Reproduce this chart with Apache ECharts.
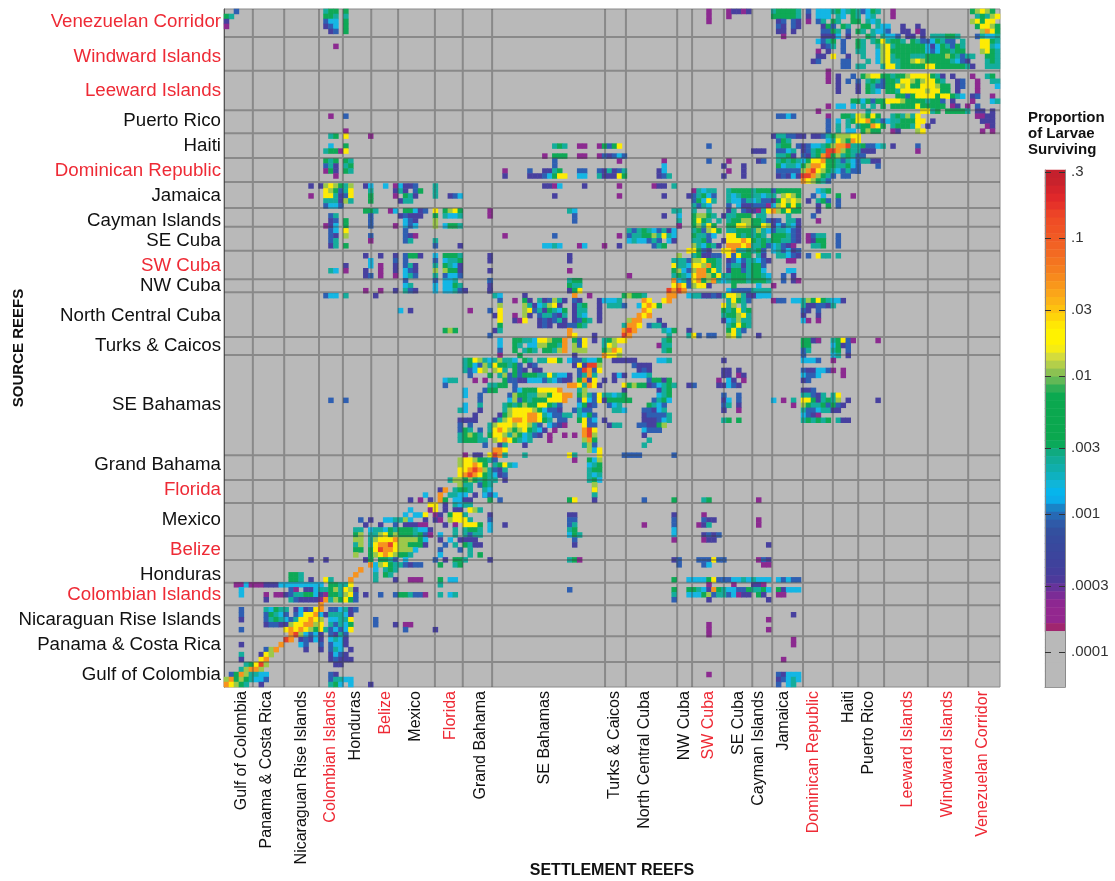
<!DOCTYPE html>
<html>
<head>
<meta charset="utf-8">
<title>Larval connectivity matrix</title>
<script src="https://cdn.jsdelivr.net/npm/echarts@6/dist/echarts.min.js"></script>
<style>
html, body { margin: 0; padding: 0; background: #fff; }
#chart { width: 1115px; height: 881px; }
</style>
</head>
<body>
<div id="chart"></div>
<script>
"use strict";

/*-----labels-----*/
var sourceNames = ['Venezuelan Corridor', 'Windward Islands', 'Leeward Islands', 'Puerto Rico', 'Haiti', 'Dominican Republic', 'Jamaica', 'Cayman Islands', 'SE Cuba', 'SW Cuba', 'NW Cuba', 'North Central Cuba', 'Turks & Caicos', 'SE Bahamas', 'Grand Bahama', 'Florida', 'Mexico', 'Belize', 'Honduras', 'Colombian Islands', 'Nicaraguan Rise Islands', 'Panama & Costa Rica', 'Gulf of Colombia'];
var sourceRows = [2, 9, 16, 22, 27, 32, 37, 42, 46, 51, 55, 61, 67, 79, 91, 96, 102, 108, 113, 117, 122, 127, 133];
var settleNames = sourceNames.slice().reverse();
var settleCols = [3, 8, 15, 21, 26, 32, 38, 45, 51, 64, 78, 84, 92, 97, 103, 107, 112, 118, 125, 129, 137, 145, 152];
var redNames = ['Venezuelan Corridor', 'Windward Islands', 'Leeward Islands', 'Dominican Republic', 'SW Cuba', 'Florida', 'Belize', 'Colombian Islands'];

/* region edges, in matrix cells */
var edgesX = [5.8, 12.1, 19.1, 23.9, 29.6, 35, 42.4, 48, 53.9, 76.6, 80.8, 91.1, 94.1, 100.5, 106.2, 110.2, 116.4, 122.4, 127.5, 132.7, 141.5, 149.6];
var edgesY = [5.6, 12.4, 20.3, 24.9, 29.9, 34.7, 39.9, 43.7, 48.5, 54.2, 56.8, 65.8, 69.4, 89.5, 94.5, 99.1, 105.7, 110.5, 115.1, 119.6, 125.8, 131];
var colCount = 156;
var rowCount = 136;

/*-----colour scale-----*/
var levelCodes = '123456789a';
var levelValues = [0.00015, 0.0004, 0.0008, 0.0015, 0.003, 0.007, 0.018, 0.035, 0.08, 0.2];
var levelColors = ['#8c2a90', '#47409f', '#2e5fb2', '#14b6e4', '#14ad9c', '#0ea956', '#9cc84a', '#fdeb05', '#f7931e', '#e8402a'];
var barColors = ['#c5202d', '#c8222c', '#d5242b', '#e0282a', '#e63329', '#ec4327', '#ef4d25', '#f05324', '#f15a24', '#f26224', '#f36a22', '#f47420', '#f57e1f', '#f78a1d', '#f9971b', '#fba519', '#fcb316', '#fdc210', '#fed40a', '#ffe704', '#fff200', '#fff200', '#f5ec14', '#d4dc3c', '#b3cf4a', '#8cc152', '#62b856', '#2fae55', '#0ca950', '#0ba84f', '#0ba84f', '#0ba84f', '#0ba84f', '#0ba84f', '#0ba95a', '#10aa80', '#11ac98', '#10aeab', '#0fb1c0', '#10b5d8', '#06b5ec', '#0bacea', '#1a84c7', '#2769b4', '#2f5aa8', '#33509f', '#364b9e', '#39489d', '#3c459d', '#3f429c', '#443e9c', '#4d3a9b', '#66339a', '#7b2c96', '#8d2791', '#93278f', '#93278f', '#a0266f', '#b9b9b9', '#b9b9b9', '#b9b9b9', '#b9b9b9', '#b9b9b9', '#b9b9b9', '#b9b9b9'];
var barTickValues = [0.3, 0.1, 0.03, 0.01, 0.003, 0.001, 0.0003, 0.0001];
var barTickLabels = ['.3', '.1', '.03', '.01', '.003', '.001', '.0003', '.0001'];

/*-----survival matrix-----*/
/* each line is one row: offset:codes, code 1 lowest to a highest */
var rowsTopLeft = ["2:3", "0:65", "0:2", "0:1"];
var rowsTopColombian = [
"5:566 9:6",
"5:665 9:5",
"5:344 9:6",
"5:234 9:6",
"6:23 9:6",
"",
"",
"7:1"
];
var rowsMidLeft = [
"", "", "",
"6:1 9:3",
"", "",
"9:1",
"6:56 9:8 14:1",
"",
"6:4 9:6 51:565 56:1 57:1 60:1 61:6368",
"5:566 8:18",
"49:1 51:666 56:1 57:1 60:1 61:32343",
"5:656 9:65 51:3 64:1 73:1",
"5:352 9:56 51:3 73:4",
"5:162 9:65 41:1 46:3 49:22 51:56 56:3 57:3 60:3 61:25235 72:24",
"7:1 41:2 46:2 47:2234 51:688 56:4 57:4 60:5 61:22286 72:235",
"",
"2:2 4:2 5:7876 9:57 13:2 14:4 17:4 19:1 20:4 21:223 27:5 49:2214 57:2 64:1 71:122 75:5",
"5:876 8:358 14:5 19:2 20:5 21:2 23:36 27:5",
"2:1 5:885 8:238 14:6 19:1 21:652 27:5 30:234 51:2 64:1 73:2",
"5:555 8:275 14:6 20:2 21:55",
"5:344 8:3",
"13:665 18:14 21:66423 27:8 29:6786 38:1 54:54 75:55",
"6:35 14:3 20:2 21:3222 27:6 29:5445 38:1 55:3 73:2 76:4",
"6:23 9:6 14:3 21:432 27:7 55:3 76:5",
"5:124 9:6 14:3 19:1 21:434 27:7 29:4665 76:5",
"6:34 9:8 21:3 66:5356543524",
"6:32 9:7 14:3 21:321 41:1 51:3 64:1 66:3556675854",
"6:35 14:1 21:35 27:5 66:4544353 74:42",
"6:25 9:6 27:3 32:2 49:4454 56:1 57:4 61:1 64:2 71:356",
"",
"13:2 16:2 19:2 21:3662 27:4 29:6665 38:2 54:2 76:7",
"14:4 19:3 21:3 27:3 29:4556 38:2 54:2 75:56",
"9:2 14:4 16:1 19:2 21:352 27:5 29:6542 75:85",
"6:54 9:1 13:2 16:1 19:2 21:432 27:7 29:7662 38:2 54:1 75:67",
"13:23 16:1 19:1 21:453 27:5 29:3443 66:1 75:56",
"21:3 27:3 29:445 38:4 54:3 55:56 75:54",
"21:45 27:4 29:4465 54:635 76:56",
"13:1 16:1 19:2 21:532 27:4 29:44532 38:2 55:48",
"5:344 9:5 15:2",
"",
"",
"20:4 22:2 34:1 38:3",
"",
"",
"",
"29:676",
"",
"",
"",
"",
"",
"",
"",
"",
"",
"29:455",
"29:3",
"",
"",
"6:3 9:3"
];
var rowsDiagCentre = [
"6:3 22:56 43:975346532",
"6:2 22:65 43:8a95544",
"6:2 22:26 42:a9",
"7:54 13:2 23:9 26:1 33:67665 42:99",
"8:3 11:1 13:62 16:523752 23:32 28:24445 37:98 41:89",
"8:7 13:752 16:45782 23:256 28:2 30:5553 36:48986",
"8:8 13:78 15:3526546 23:255 28:2 37:98",
"7:28 11:1 13:72 16:355325 23:254 28:2 36:989",
"8:8 11:21 13:8 16:232352 23:2365 28:2 34:799 40:2",
"8:6 16:232 20:2233 24:65 33:5998 38:3552",
"7:25 22:9 33:9a9 41:5 42:46",
"6:3 22:98 27:2 33:a9 42:5",
"8:4 11:665 14:54 16:887669 23:638 27:2 29:56788 41:56",
"8:4 11:65 14:44 16:776659 23:73 25:8 29:587 40:155",
"8:3 11:6 13:565 17:66579 23:777 29:6798 41:56",
"8:1 12:6 23:2 29:9887",
"1:5687545 8:7554 13:65 16:55886 22:4335446 31:2222 35:2 40:445",
"1:5643 5:7586 9:65 11:63 14:23 23:28 25:2aa7 35:3 36:222",
"1:534 4:87 7:785 11:6 12:32 15:2 16:2 24:3 25:a93 28:8 36:232",
"2:3 6:6 8:57 10:36366655 18:8544 22:2 24:3595 31:242 35:4445",
"3:1 5:1 9:6 10:33 12:22444 17:35432 22:2 24:692 27:8 29:2 31:2 38:36626",
"6:556 9:6 11:3 22:998 25:598 28:2 33:8676 37:62345 42:65",
"1:4 5:3 6:66 11:34 13:666 16:8888 20:9 24:57 33:2 40:256",
"1:4 4:3 10:3 11:76 13:6557768899 24:6753 28:8 29:55456 40:456",
"4:3 10:473656668889 24:3843 28:82 30:66666 39:3564",
"1:4 4:5 9:565676688653 24:4623 30:3 31:45 38:6543",
"0:54 4:2 9:5788887643 19:32 23:3533 31:554 37:33245",
"3:2 8:2 9:67888998543 20:355 24:5463 37:233335",
"0:2222 7:257899899865 20:33 24:6834 29:2 37:22234 42:5",
"0:3 2:3 6:57888788753 18:4321 25:833 30:255 36:332267",
"0:365 4:3 6:589876786542 19:1 25:9a8 37:4333",
"0:56765 6:68875764532 18:1 21:1 23:1 25:9a7 37:2",
"0:566655 7:78986545 18:1 25:796 38:5",
"5:3 8:2 9:5 13:2 25:573 37:5",
"7:998 26:748",
"1:1 3:22 6:8a95 13:5 22:85 28:8 33:3333 43:3",
"0:78876 5:65 7:3 23:1 26:647",
"0:788986 7:56 9:854 26:456",
"0:889a975 7:32 9:5 26:566",
"0:89a9865 7:42 9:3 26:545",
"0:7976565 7:5 9:2 26:564",
"0:75 5:65 27:7",
"0:55 2:5 5:34 27:6",
"0:5 3:2 5:234 27:5"
];
var rowsSouthWest = [
"45:5776",
"47:7 49:5 51:3",
"43:29 46:5665",
"40:4 43:9 45:5544",
"37:2 39:1 41:2 43:96 46:4422",
"41:88 44:2 46:5455",
"37:4 41:18 44:2 46:22 49:875",
"36:4 38:44 40:8 42:12 45:6885",
"27:3 29:2 32:445574 40:2 42:21 45:78885",
"28:2 31:2 34:3 36:22211 44:2 46:1 48:8886",
"26:55 29:455 32:4656665442 46:5 48:5665",
"26:67 29:5578676665631 43:4 46:5 48:5355",
"26:77 29:578889777764 43:2 45:4 47:2222",
"26:57 29:5899a8776662 44:3 46:5 48:6522",
"26:66 29:68a9987774 43:3 47:3 49:5",
"26:7 29:678987665 43:4 49:5 51:6",
"17:2 20:2 28:2 29:6 31:66 33:5 34:3 36:4 42:3 44:2 46:665",
"29:9 30:4 31:78655 36:3233 43:6 46:56",
"27:9 30:4 32:565",
"13:665 26:9 30:5 32:65",
"13:665 17:2 20:85 25:9 30:5 34:2 37:111 43:6 45:44",
"2:11411122244444 16:4444 21:66558 43:5",
"3:4 13:31 16:22455 21:67587 26:2",
"3:4 8:1 10:1123 14:556642 20:1 21:66578 26:3 28:2 31:3 34:3 35:665331 43:5 45:45",
"8:2 13:5322221 20:9 21:57686 26:3",
"19:9",
"3:3 8:54655 14:2 15:42389 21:33452 26:3",
"3:3 8:36543 14:348894 20:2 21:55542",
"3:2 8:356543 14:58898 19:7 21:44558 30:3",
"8:23322 13:788997 19:8 21:53546 30:3 34:2 36:11",
"3:3 12:8989876 19:85 21:34348 36:3 42:2",
"13:9a 15:74342 21:32 23:53",
"12:a9 15:2 16:3242 21:4542",
"3:2 11:9 15:43 19:3 21:3442",
"8:3 9:79 16:2 19:2 21:354 25:2",
"3:5 7:287 21:2432",
"3:2 7:89 21:2322 25:2",
"4:568a7 22:22",
"3:57997",
"1:369755 7:44 21:32",
"0:7967654 7:43 21:35544",
"0:98765 7:2 21:564 25:4 29:2"
];
var rowsBelowCaribbean = [
"",
"1:65 23:7",
"1:54 23:8",
"1:43 23:5",
"2:6 4:3 18:68 23:2 33:3 39:6 45:56 56:1",
"",
"",
"2:2 18:22 39:2 45:1",
"2:3 18:33 39:3 45:32 47:2 56:1",
"2:4 5:2 18:35 33:1 39:3 44:1 45:25 56:1",
"2:4 18:56 39:4",
"18:465 39:4 45:2323",
"19:3 39:1 45:1 46:2 47:2",
"19:2 58:2",
"",
"",
"2:2 18:561 39:23 44:333833 56:1 57:32",
"40:3 45:3 46:4 57:11",
"",
"",
"39:6 42:44446834 49:3344545444 60:43433",
"46:1 51:1 55:221",
"18:3 39:6 42:66542966 49:5443365564 60:6 61:2444",
"39:5 42:44467355 50:34122 56:62 60:1 61:1",
"39:3 46:2 58:2",
"",
"",
"63:2",
"58:1",
"46:1",
"46:1 58:1",
"46:1",
"63:1",
"63:1",
"",
"",
"61:1",
"",
"",
"46:1 60:32 62:444",
"60:23 62:454",
"60:3 62:45"
];
var rowsNorthEastUpper = [
"6:1 10:12212 19:566665 26:3 28:4445645653465 43:1 59:67876",
"6:1 10:1 19:666665 26:2 28:444 32:54 35:65 38:45 43:1 60:56578",
"6:1 20:23 23:32 26:1 28:35 31:65 35:66 38:545 59:78688",
"20:32 23:32 29:263 33:65 37:66 40:544 45:2 48:2 60:68876",
"20:22 23:2 29:3365 34:3 36:65 39:5443 45:22 48:12 61:79865",
"21:1 29:2224 34:2 38:65 41:5443 46:22 49:2 51:555665 60:35445",
"28:4356 33:3 36:65 39:5685665 47:653346533 57:5 61:88654",
"29:235 33:3 36:65 40:578566666642465365 61:8854",
"28:1 30:2 33:3 36:55 40:478666666643466566 61:7865",
"28:22 31:8 34:2 37:5 40:47856665556666765355 62:6654",
"27:23 33:33 38:5 40:4785566787666665432 62:5654",
"33:33 36:55 41:5885666668866666652 62:5554",
"30:1",
"30:1 32:2 35:3 37:67886656678888652 55:2 59:1 62:56 65:22",
"30:1 32:2 34:3 36:3 38:5653665887678865 56:23 60:1 63:55 66:22",
"32:2 36:2 38:65336687866888766 56:23 60:1 64:44",
"32:2 36:2 38:654 42:6658888878866 56:2 60:1",
"44:66368888688654 59:23 63:1 65:65 68:3",
"35:6646366888766665663 55:2 59:1 63:45 66:2",
"30:1 32:44 35:4 37:5 39:5 41:6 43:66666866666 55:12 58:1 60:3 65:2",
"28:1 38:5 49:8856 54:66665 60:22 63:2 66:2"
];
var rowsNorthEastLower = [
"20:3343 30:1 33:665 36:87686 43:565758 60:1122",
"30:3 32:4 34:56 36:88965 41:345566688 51:2 61:222",
"30:3 32:5 34:5 36:566986 43:566658 50:2 62:12",
"30:3 32:5 34:44 37:6766 43:12 48:78 61:1 63:1",
"19:255332 25:2 27:223567 33:778 36:8",
"20:365 30:4 31:587698",
"6:3 20:566 24:32344567 32:99a5563345 43:2 48:3",
"15:222 20:3345 25:23565 30:aa976552 38:22 48:1",
"20:5562 25:325 28:69a67565 36:33",
"6:3 10:1 16:23 20:56565 25:468896653 34:5435522",
"9:2 13:2 20:64554 25:679986655643 40:3",
"10:1 13:2 20:33333 25:79a876543533 36:3",
"9:2 13:2 20:23242 25:aa97653 33:33",
"25:987653",
"",
"3:15455 10:566665666366666 28:456",
"2:235643 10:5456655455 21:7876 27:3 29:4 32:6 35:1",
"3:36485 10:5 11:4435 15:45332 20:68787 26:2 28:563 32:3",
"3:5354 10:3 12:4 13:223 16:33147 21:8686 28:2 30:6 32:3",
"3:5 6:5 10:2 11:5 13:3221589 20:76866 28:2",
"3:67765 9:2 10:55666 16:55 22:5 27:3",
"3:6865 8:5 10:56677665 18:323 22:552 28:1",
"0:1 3:67586 10:668876687 19:243542",
"3:563786 10:55666575 18:4355432",
"3:65534 10:88656565 19:666532 26:1 27:355 32:3",
"3:5563 9:2 10:888986565 19:665532 26:1 27:266 32:3",
"3:75465 8:2 10:99989556 18:345321 27:556 32:3",
"2:88632 9:889556563 19:453423",
"3:562233 10:83866 16:52 20:55432 26:3 28:855 32:5",
"0:553 3:778665 10:234355432 22:1 23:1",
"0:554887965 10:35525663",
"1:43799685 10:26635664 22:4 23:4",
"1:5 2:489976856 10:566656654 21:3 23:2",
"0:453896795 9:4566656665 21:3 23:2 24:1",
"0:98",
"0:a9 10:43333 15:5555",
"2:4444555 9:5444444444"
];
var rowsRightMiddle = [
"",
"2:3 3:7882 11:6 16:4 19:1",
"",
"3:552232 10:8875224",
"10:5 11:8653 19:133 23:44 25:5768654 32:42",
"9:857 13:5 25:5223 29:325",
"9:65 11:6 12:856 25:32 28:3",
"9:566 12:785 25:2 28:2",
"9:245 12:755 25:4 26:1 28:1",
"10:56 12:865",
"2:2 10:685 13:3",
"2:583 6:33 10:785 16:2",
"25:6655 27:21 31:56 33:8 34:31 40:1",
"25:66 31:46 33:2 34:3",
"25:35 31:56 34:3",
"25:3 31:45 34:2",
"9:2 25:444 28:3 31:1",
"",
"9:22 12:2 25:322443 31:1 33:1",
"9:22 12:12 25:433 28:4 33:1",
"8:1 10:42 13:1 25:23",
"2:23 8:22 10:432",
"25:223",
"9:3 12:3 25:55325 31:5 32:8",
"9:24 12:3 19:4 21:1 23:5 25:886256 31:57 34:2 40:2",
"9:35 12:2 23:1 25:765563 31:632",
"9:2 12:1 25:5334552 32:2",
"25:432 28:1",
"9:56 12:6 25:565656 32:522"
];
var blockList = [
	[0, 0, rowsTopLeft],
	[15, 0, rowsTopColombian],
	[15, 18, rowsMidLeft],
	[47, 54, rowsDiagCentre],
	[0, 94, rowsSouthWest],
	[91, 0, rowsNorthEastUpper],
	[91, 21, rowsNorthEastLower],
	[51, 94, rowsBelowCaribbean],
	[91, 54, rowsRightMiddle]
];

/*-----build series-----*/
var cells = [];
blockList.forEach(function (block) {
	block[2].forEach(function (line, j) {
		if (!line) return;
		line.split(' ').forEach(function (run) {
			var parts = run.split(':');
			var start = parseInt(parts[0], 10);
			for (var i = 0; i < parts[1].length; i++) {
				var code = levelCodes.indexOf(parts[1].charAt(i));
				if (code >= 0 && block[0] + start + i < colCount && block[1] + j < rowCount) {
					cells.push([block[0] + start + i, block[1] + j, levelValues[code]]);
				}
			}
		});
	});
});

var xData = [];
for (var c = 0; c < colCount; c++) {
	xData.push(settleCols.indexOf(c) >= 0 ? settleNames[settleCols.indexOf(c)] : '');
}
var yData = [];
for (var r = 0; r < rowCount; r++) {
	yData.push(sourceRows.indexOf(r) >= 0 ? sourceNames[sourceRows.indexOf(r)] : '');
}
var edgeLines = [];
edgesX.forEach(function (e) {
	edgeLines.push([e, 0], [e, rowCount], [null, null]);
});
edgesY.forEach(function (e) {
	edgeLines.push([0, e], [colCount, e], [null, null]);
});
var pieces = levelValues.map(function (v, i) {
	return {
		gt: i === 0 ? 0 : levelValues[i - 1],
		lte: v,
		color: levelColors[i]
	};
});
var barData = barColors.map(function (col, i) {
	return [0, i, i];
});
var barLogTicks = barTickValues.map(function (v) {
	return Math.log10(v);
});
function labelColor(value) {
	return redNames.indexOf(value) >= 0 ? '#ee2a35' : '#111';
}

var myChart = echarts.init(document.getElementById('chart'), null, { renderer: 'canvas' });
var option = {
	animation: false,
	backgroundColor: '#fff',
	textStyle: { fontFamily: '"Liberation Sans", Arial, sans-serif' },
	title: {
		text: 'Proportion\nof Larvae\nSurviving',
		left: 1028,
		top: 110,
		padding: 0,
		textStyle: { fontSize: 15, fontWeight: 'bold', color: '#111', lineHeight: 16 }
	},
	grid: [
		{ left: 224, top: 9, width: 776, height: 678, outerBoundsMode: 'none', show: true, backgroundColor: '#b9b9b9', borderColor: '#8a8a8a', borderWidth: 1 },
		{ left: 1045, top: 170, width: 20, height: 517, outerBoundsMode: 'none' }
	],
	xAxis: [{
		gridIndex: 0,
		type: 'category',
		data: xData,
		name: 'SETTLEMENT REEFS',
		nameLocation: 'middle',
		nameMoveOverlap: false,
		nameGap: 176,
		nameTextStyle: { fontSize: 16, fontWeight: 'bold', color: '#111' },
		axisLine: { show: false },
		axisTick: { show: false },
		axisLabel: { interval: 0, rotate: 90, fontSize: 16, margin: 4, color: labelColor, hideOverlap: false }
	}, {
		gridIndex: 0,
		type: 'value',
		min: 0,
		max: colCount,
		show: false
	}, {
		gridIndex: 1,
		type: 'category',
		data: ['c'],
		axisLine: { show: true, lineStyle: { color: '#8a8a8a' } },
		axisTick: { show: false },
		axisLabel: { show: false }
	}],
	yAxis: [{
		gridIndex: 0,
		type: 'category',
		inverse: true,
		data: yData,
		name: 'SOURCE REEFS',
		nameLocation: 'middle',
		nameMoveOverlap: false,
		nameGap: 198,
		nameTextStyle: { fontSize: 15, fontWeight: 'bold', color: '#111' },
		axisLine: { show: true, lineStyle: { color: '#555', width: 1 } },
		axisTick: { show: false },
		axisLabel: { interval: 0, fontSize: 18.7, margin: 3, color: labelColor, hideOverlap: false }
	}, {
		gridIndex: 0,
		type: 'value',
		min: 0,
		max: rowCount,
		inverse: true,
		show: false
	}, {
		gridIndex: 1,
		type: 'category',
		inverse: true,
		data: barColors,
		show: false
	}, {
		gridIndex: 1,
		type: 'value',
		position: 'left',
		min: -4.254,
		max: -0.507,
		z: 5,
		splitLine: { show: false },
		axisLine: { show: true, lineStyle: { color: '#8a8a8a' } },
		axisTick: { show: true, inside: true, length: 6, customValues: barLogTicks, lineStyle: { color: '#333' } },
		axisLabel: { show: false, customValues: barLogTicks }
	}, {
		gridIndex: 1,
		type: 'value',
		position: 'right',
		min: -4.254,
		max: -0.507,
		z: 5,
		splitLine: { show: false },
		axisLine: { show: true, lineStyle: { color: '#8a8a8a' } },
		axisTick: { show: true, inside: true, length: 6, customValues: barLogTicks, lineStyle: { color: '#333' } },
		axisLabel: {
			show: true,
			customValues: barLogTicks,
			fontSize: 15,
			margin: 6,
			color: '#333',
			formatter: function (v) {
				var best = 0;
				barLogTicks.forEach(function (t, i) {
					if (Math.abs(t - v) < Math.abs(barLogTicks[best] - v)) best = i;
				});
				return barTickLabels[best];
			}
		}
	}],
	visualMap: [{
		type: 'piecewise',
		show: false,
		seriesIndex: 0,
		dimension: 2,
		pieces: pieces
	}, {
		type: 'continuous',
		show: false,
		seriesIndex: 2,
		dimension: 2,
		min: 0,
		max: barColors.length - 1,
		inRange: { color: barColors }
	}],
	series: [{
		type: 'heatmap',
		xAxisIndex: 0,
		yAxisIndex: 0,
		data: cells,
		progressive: 0,
		emphasis: { disabled: true }
	}, {
		type: 'line',
		xAxisIndex: 1,
		yAxisIndex: 1,
		data: edgeLines,
		z: 4,
		symbol: 'none',
		silent: true,
		connectNulls: false,
		lineStyle: { color: 'rgba(60,60,60,0.38)', width: 2 }
	}, {
		type: 'heatmap',
		xAxisIndex: 2,
		yAxisIndex: 2,
		data: barData,
		progressive: 0,
		emphasis: { disabled: true }
	}]
};
myChart.setOption(option);
window.addEventListener('resize', function () {
	myChart.resize();
});
</script>
</body>
</html>
